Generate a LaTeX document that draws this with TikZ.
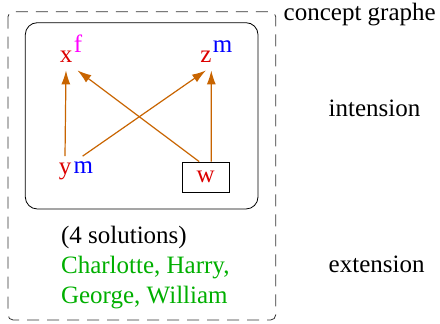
\documentclass[tikz,border=0pt]{standalone}
\usepackage{fontspec}
\setmainfont{Liberation Serif}
\usetikzlibrary{arrows.meta}
\definecolor{cgred}{RGB}{220,0,0}
\definecolor{cgblue}{RGB}{0,0,255}
\definecolor{cgpink}{RGB}{255,0,255}
\definecolor{cggreen}{RGB}{0,175,0}
\definecolor{cgarc}{RGB}{200,100,0}
\tikzset{
  var/.style ={text=cgred,inner sep=3.5pt},
  gen/.style ={draw,text=cgred,inner sep=0pt,minimum width=23.5pt,minimum height=15pt},
  sex/.style ={anchor=base,inner sep=0pt},
  txt/.style ={anchor=base west,inner sep=0pt},
  rel/.style ={cgarc,line width=0.6pt,-{Latex[length=7pt,width=4.5pt]}},
}
\begin{document}
\begin{tikzpicture}[x=0.5pt,y=-0.5pt,font=\fontsize{12.5}{15}\selectfont]
  \useasboundingbox (0,0) rectangle (440,324);
  % outer dashed box and inner graph box
  \draw[black!80,dash pattern=on 6pt off 4pt,rounded corners=2.5pt] (8,11.7) rectangle (275.7,320);
  \draw[rounded corners=6pt] (25.3,22.7) rectangle (258,209);
  % variables
  \node[var,anchor=base] (x) at (66,63){x};
  \node[var,anchor=base] (z) at (206,63){z};
  \node[var,anchor=base] (y) at (65,175){y};
  \node[gen] (w) at (205.7,177){w};
  \node[sex,text=cgpink] (xs) at (78,53){f};
  \node[sex,text=cgblue] (zs) at (222.7,53){m};
  \node[sex,text=cgblue] (ys) at (83.3,174){m};
  % relations
  \draw[rel] (y.north) -- (x.south);
  \draw[rel] ([xshift=2pt]y.north east) -- (z.south);
  \draw[rel] (w.113) -- (x.-49);
  \draw[rel] (w.70) -- (z.-68);
  % texts
  \node[txt] (sol) at (60.7,243.3){(4 solutions)};
  \node[txt,text=cggreen] (who1) at (60.7,273.5){Charlotte, Harry,};
  \node[txt,text=cggreen] (who2) at (60.7,303.3){George, William};
  \node[txt] (cg) at (283.3,20.7){concept graphe};
  \node[txt] (int) at (328.3,116.7){intension};
  \node[txt] (ext) at (328.3,272.7){extension};
\end{tikzpicture}
\end{document}
